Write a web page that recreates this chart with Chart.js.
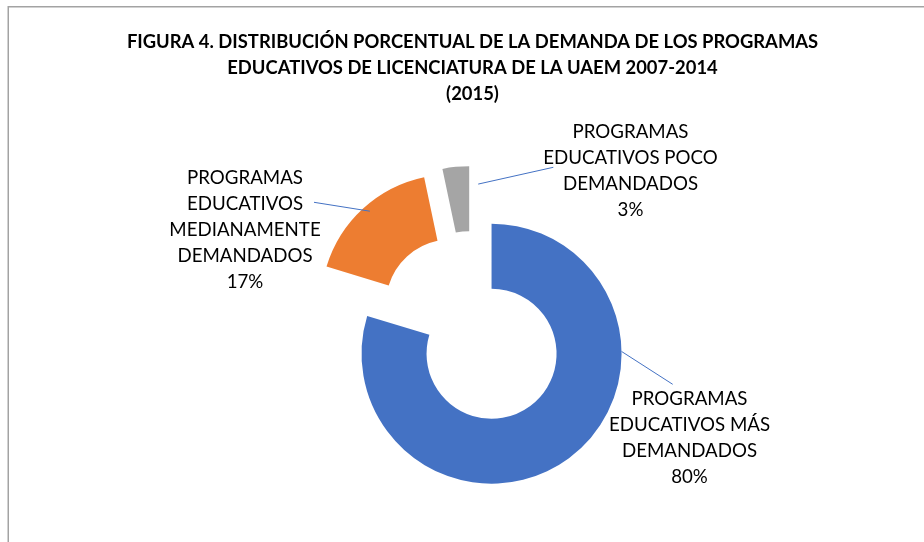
<!DOCTYPE html>
<html>
<head>
<meta charset="utf-8">
<script src="https://cdn.jsdelivr.net/npm/chart.js@4.4.1/dist/chart.umd.min.js"></script>
<style>
	html, body { margin: 0; padding: 0; background: #fff; }
	#wrap { width: 924px; height: 542px; position: relative; }
</style>
</head>
<body>
<div id="wrap"><canvas id="pieChart"></canvas></div>
<script>
// chart values
const categories = [
	['PROGRAMAS', 'EDUCATIVOS MÁS', 'DEMANDADOS'],
	['PROGRAMAS', 'EDUCATIVOS', 'MEDIANAMENTE', 'DEMANDADOS'],
	['PROGRAMAS', 'EDUCATIVOS POCO', 'DEMANDADOS']
];
const shares = [79.7, 17.0, 3.3];
const titleLines = [
	'FIGURA 4. DISTRIBUCIÓN PORCENTUAL DE LA DEMANDA DE LOS PROGRAMAS',
	'EDUCATIVOS DE LICENCIATURA DE LA UAEM 2007-2014',
	'(2015)'
];

(function() {
	/* "use strict" */

	// pull every slice out from the middle, same distance for all (like excel "explosion")
	var explode = {
		id: 'explode',
		afterDatasetUpdate: function(chart, args, opts) {
			args.meta.data.forEach(function(arc) {
				var mid = (arc.startAngle + arc.endAngle) / 2;
				arc.x += Math.cos(mid) * opts.distance;
				arc.y += Math.sin(mid) * opts.distance;
			});
		}
	};

	// labels were dragged by hand in the original, so they have fixed spots
	var sliceLabels = {
		id: 'sliceLabels',
		afterDatasetsDraw: function(chart, args, opts) {
			var ctx = chart.ctx;
			var meta = chart.getDatasetMeta(0);
			var total = shares.reduce(function(a, b) { return a + b; }, 0);
			ctx.save();
			meta.data.forEach(function(arc, i) {
				var spot = opts.spots[i];
				var ang = (spot.anchorDeg - 90) * Math.PI / 180;
				var r = arc.outerRadius * spot.anchorR;
				ctx.beginPath();
				ctx.moveTo(arc.x + Math.cos(ang) * r, arc.y + Math.sin(ang) * r);
				ctx.lineTo(spot.lineEnd[0], spot.lineEnd[1]);
				ctx.strokeStyle = opts.lineColor;
				ctx.lineWidth = 1;
				ctx.stroke();

				var lines = categories[i].concat([Math.round(shares[i] / total * 100) + '%']);
				ctx.font = opts.font;
				ctx.fillStyle = opts.color;
				ctx.textAlign = 'center';
				ctx.textBaseline = 'middle';
				lines.forEach(function(t, k) {
					ctx.fillText(t, spot.x, spot.y + k * opts.lineHeight);
				});
			});
			ctx.restore();
		}
	};

	var frame = {
		id: 'frame',
		beforeDraw: function(chart) {
			var ctx = chart.ctx;
			ctx.save();
			ctx.fillStyle = '#fff';
			ctx.fillRect(0, 0, chart.width, chart.height);
			ctx.strokeStyle = '#a3a3a3';
			ctx.lineWidth = 1.5;
			ctx.strokeRect(8.25, 6.75, chart.width + 20, chart.height + 20);
			ctx.restore();
		}
	};

	var pieChart = function() {
		const el = document.getElementById('pieChart').getContext('2d');
		new Chart(el, {
			type: 'doughnut',
			data: {
				labels: categories,
				datasets: [{
					data: shares,
					backgroundColor: ['#4472C4', '#ED7D31', '#A5A5A5'],
					borderWidth: 0
				}]
			},
			options: {
				responsive: true,
				maintainAspectRatio: false,
				animation: false,
				radius: 130,
				cutout: '50%',
				layout: {
					padding: { left: 21, right: 0, top: 0, bottom: 0 }
				},
				plugins: {
					legend: { display: false },
					tooltip: { enabled: false },
					title: {
						display: true,
						text: titleLines,
						color: '#000',
						font: { family: 'Lato', size: 18.4, weight: 'bold', lineHeight: '26px' },
						padding: { top: 29, bottom: 7 }
					},
					explode: { distance: 32 },
					sliceLabels: {
						font: '18.7px Lato',
						color: '#000',
						lineHeight: 26,
						lineColor: '#4472C4',
						spots: [
							{ x: 689.5, y: 399.3, lineEnd: [672.7, 384.3], anchorDeg: 89, anchorR: 1 },
							{ x: 245, y: 178.3, lineEnd: [314, 202.3], anchorDeg: 319, anchorR: 0.95 },
							{ x: 630.5, y: 131.7, lineEnd: [553.3, 167.3], anchorDeg: 364.6, anchorR: 0.865 }
						]
					}
				}
			},
			plugins: [frame, explode, sliceLabels]
		});
	};

	pieChart();
})();
</script>
</body>
</html>
